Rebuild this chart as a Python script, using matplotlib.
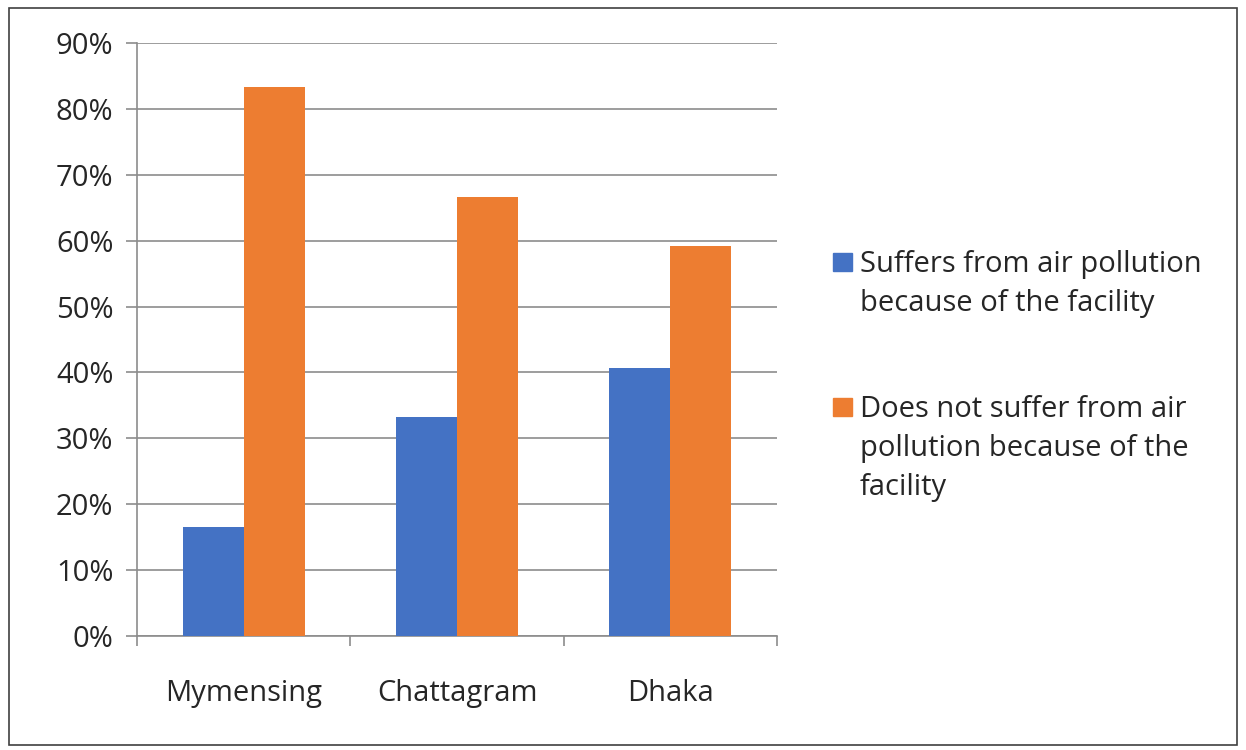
import matplotlib.pyplot as plt
import matplotlib.patches as mpatches
from matplotlib.ticker import PercentFormatter
import numpy as np

# Chart data
cities = ["Mymensing", "Chattagram", "Dhaka"]
suffers = [16.6, 33.3, 40.7]
not_suffers = [83.3, 66.7, 59.2]
series_labels = [["Suffers from air pollution", "because of the facility"],
                 ["Does not suffer from air", "pollution because of the", "facility"]]
series_colors = ["#4472C4", "#ED7D31"]

plt.rcParams['font.family'] = ['Open Sans', 'DejaVu Sans']

fig = plt.figure(figsize=(12.46, 7.5), dpi=100)
ax = fig.add_axes([0.110, 0.152, 0.5136, 0.7907])

x = np.arange(len(cities))
w = 0.286
ax.bar(x - w / 2, suffers, w, color=series_colors[0], zorder=3)
ax.bar(x + w / 2, not_suffers, w, color=series_colors[1], zorder=3)

# Axis limits, ticks and grid
ax.set_xlim(-0.5, len(cities) - 0.5)
ax.set_ylim(0, 90)
ax.set_yticks(range(0, 91, 10))
ax.yaxis.set_major_formatter(PercentFormatter(decimals=0))
ax.grid(axis='y', color='#8c8c8c', linewidth=1.2, zorder=0)
ax.set_xticks(x)
ax.set_xticklabels(cities)
ax.set_xticks(np.arange(-0.5, len(cities), 1), minor=True)
ax.tick_params(axis='x', which='major', length=0, labelsize=21, pad=31, labelcolor='#262626')
ax.tick_params(axis='x', which='minor', length=7.5, width=1.2, color='#8c8c8c')
ax.tick_params(axis='y', length=8, width=1.2, color='#8c8c8c', labelsize=21, pad=9, labelcolor='#262626')

for side in ['top', 'right']:
    ax.spines[side].set_visible(False)
ax.spines['left'].set_color('#8c8c8c')
ax.spines['left'].set_linewidth(1.2)
ax.spines['bottom'].set_color('#8c8c8c')
ax.spines['bottom'].set_linewidth(1.2)

# Legend drawn by hand to match the layout (one text per line, baseline aligned)
legend_base = [0.6373, 0.444]
line_step = 39 / 750
for lines, col, ly in zip(series_labels, series_colors, legend_base):
    fig.patches.append(mpatches.Rectangle((0.6685, ly + 0.0015), 0.0155, 0.0235,
                                          transform=fig.transFigure, color=col))
    for i, line in enumerate(lines):
        fig.text(0.690, ly - i * line_step, line, fontsize=21, va='baseline', ha='left',
                 color='#262626')

# Outer frame
fig.patches.append(mpatches.Rectangle((0.007, 0.007), 0.986, 0.983, transform=fig.transFigure,
                                      fill=False, edgecolor='#404040', linewidth=1.2))

fig.savefig("out.png", dpi=100)
